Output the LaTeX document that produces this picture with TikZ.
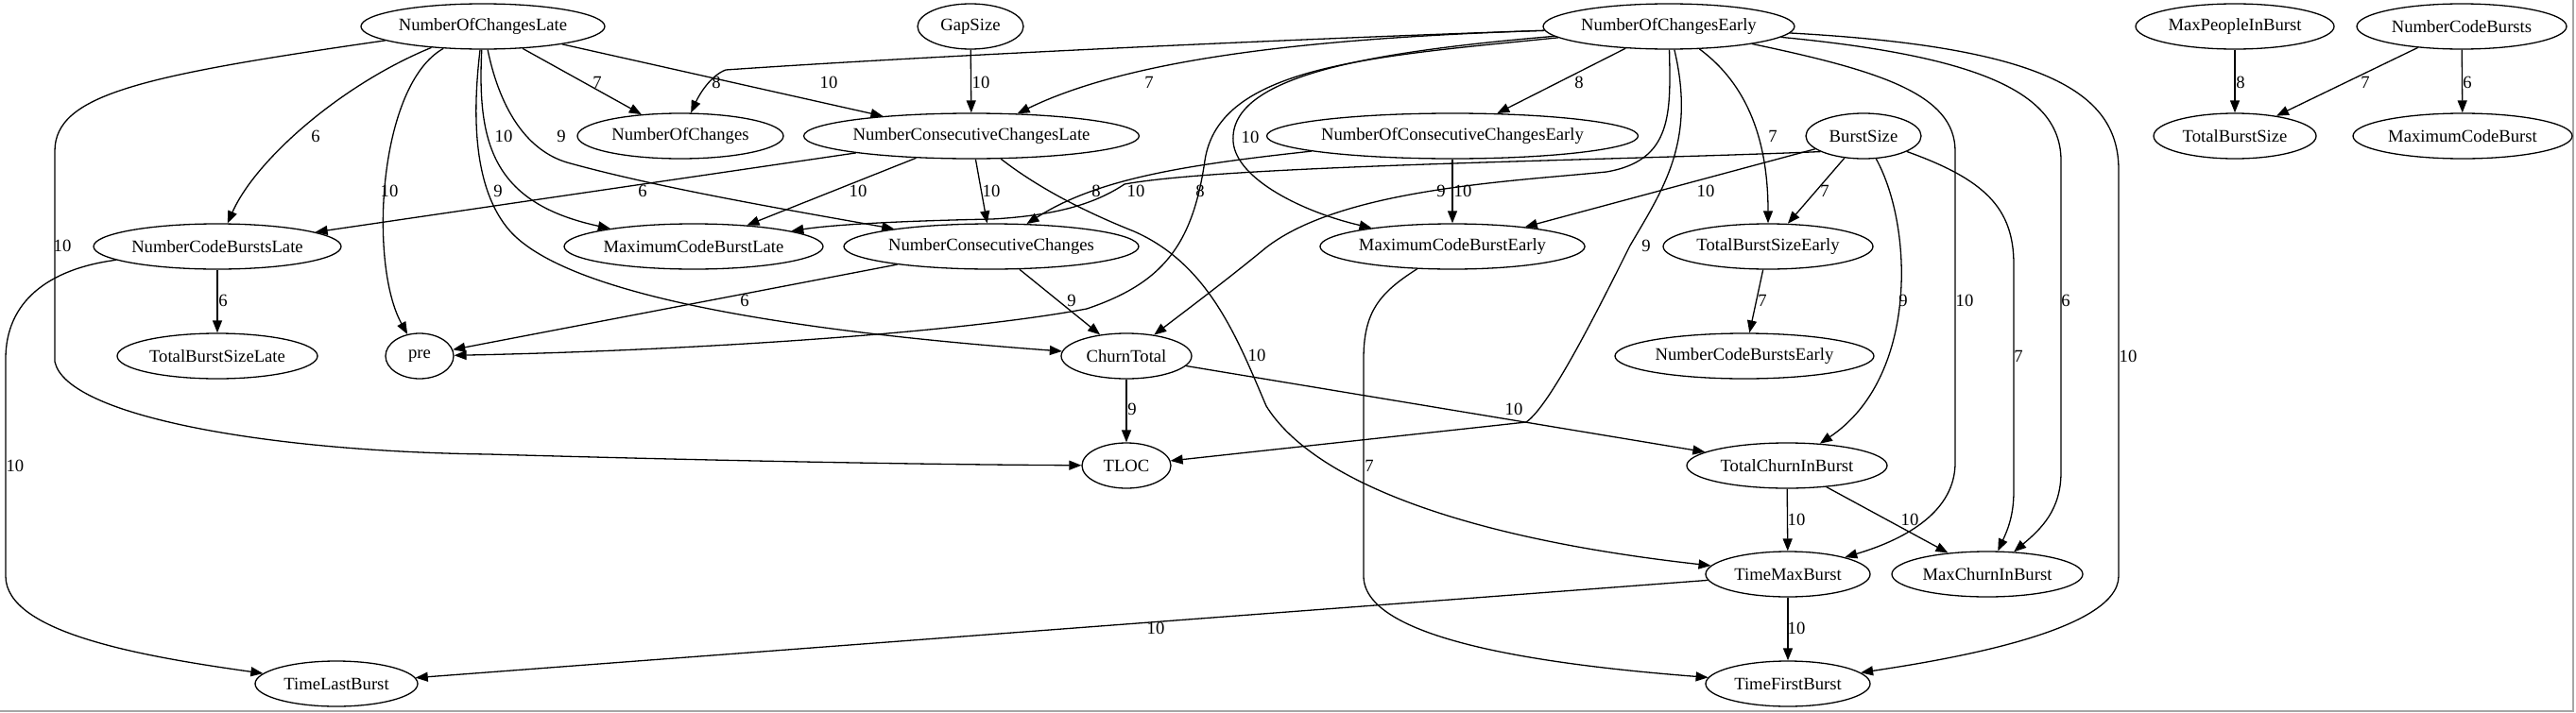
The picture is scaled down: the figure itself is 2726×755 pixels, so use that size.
\documentclass[tikz,border=0pt]{standalone}
\usepackage{fontspec}
\setmainfont{Liberation Serif}
\usetikzlibrary{shapes.geometric,arrows.meta}
\newcommand\gvfont{\fontsize{18.67}{22}\selectfont}
\begin{document}
\begin{tikzpicture}[x=1pt,y=-1pt,
  nd/.style={draw, ellipse, inner sep=0pt, minimum height=48pt, font=\gvfont, line width=1.3pt},
  edge/.style={draw, line width=1.3pt, -{Triangle[length=13pt,width=10pt]}},
  lbl/.style={font=\gvfont, inner sep=0pt}]
\useasboundingbox (0,0) rectangle (2726,755);
\draw[gray!70, line width=2pt] (0,753) -- (2723,753) -- (2723,0);
% nodes
\node[nd,minimum width=258pt] (NOCL) at (511,28) {NumberOfChangesLate};
\node[nd,minimum width=112pt] (GS) at (1027,28) {GapSize};
\node[nd,minimum width=266pt] (NOCE) at (1766,28) {NumberOfChangesEarly};
\node[nd,minimum width=210pt] (MPIB) at (2365,28) {MaxPeopleInBurst};
\node[nd,minimum width=222pt] (NCB) at (2605,28) {NumberCodeBursts};
\node[nd,minimum width=218pt] (NOC) at (720,144) {NumberOfChanges};
\node[nd,minimum width=352pt] (NCCL) at (1028,144) {NumberConsecutiveChangesLate};
\node[nd,minimum width=384pt] (NOCCE) at (1537,144) {NumberOfConsecutiveChangesEarly};
\node[nd,minimum width=122pt] (BS) at (1972,144) {BurstSize};
\node[nd,minimum width=172pt] (TBS) at (2365,144) {TotalBurstSize};
\node[nd,minimum width=232pt] (MCB) at (2606,144) {MaximumCodeBurst};
\node[nd,minimum width=262pt] (NCBL) at (230,261) {NumberCodeBurstsLate};
\node[nd,minimum width=274pt] (MCBL) at (734,261) {MaximumCodeBurstLate};
\node[nd,minimum width=312pt] (NCC) at (1049,261) {NumberConsecutiveChanges};
\node[nd,minimum width=280pt] (MCBE) at (1537,261) {MaximumCodeBurstEarly};
\node[nd,minimum width=222pt] (TBSE) at (1871,261) {TotalBurstSizeEarly};
\node[nd,minimum width=212pt] (TBSL) at (230,377) {TotalBurstSizeLate};
\node[nd,minimum width=72pt] (pre) at (444,377) {pre};
\node[nd,minimum width=138pt] (CT) at (1192,377) {ChurnTotal};
\node[nd,minimum width=274pt] (NCBE) at (1846,377) {NumberCodeBurstsEarly};
\node[nd,minimum width=94pt] (TLOC) at (1192,493) {TLOC};
\node[nd,minimum width=212pt] (TCIB) at (1891,493) {TotalChurnInBurst};
\node[nd,minimum width=174pt] (TMB) at (1892,608) {TimeMaxBurst};
\node[nd,minimum width=202pt] (MCIB) at (2103,608) {MaxChurnInBurst};
\node[nd,minimum width=172pt] (TLB) at (356,724) {TimeLastBurst};
\node[nd,minimum width=174pt] (TFB) at (1892,724) {TimeFirstBurst};
% edges from NumberOfChangesLate
\path[edge] (NOCL) -- (NOC) node[lbl] at (632,87) {7};
\path[edge] (NOCL) -- (NCCL) node[lbl] at (877,87) {10};
\path[edge] (NOCL) .. controls (360,90) and (270,170) .. (NCBL) node[lbl] at (334,144) {6};
\path[edge] (NOCL) .. controls (400,90) and (390,280) .. (pre) node[lbl] at (412,202) {10};
\path[edge] (NOCL) .. controls (505,150) and (520,215) .. (MCBL) node[lbl] at (533,144) {10};
\path[edge] (NOCL) .. controls (530,120) and (560,160) .. (600,172) .. controls (700,200) and (850,225) .. (NCC) node[lbl] at (594,144) {9};
\path[edge] (NOCL) .. controls (500,120) and (500,200) .. (540,245) .. controls (590,300) and (760,345) .. (CT) node[lbl] at (527,202) {9};
\path[edge] (NOCL) .. controls (150,80) and (58,100) .. (58,160) -- (58,383) .. controls (70,440) and (280,478) .. (517,481) .. controls (800,489) and (1000,492) .. (TLOC) node[lbl] at (66,260) {10};
% NumberCodeBurstsLate
\path[edge] (NCBL) -- (TBSL) node[lbl] at (236,318) {6};
\path[edge] (NCBL) .. controls (50,285) and (6,320) .. (6,380) -- (6,610) .. controls (6,670) and (150,695) .. (TLB) node[lbl] at (16,493) {10};
% GapSize
\path[edge] (GS) -- (NCCL) node[lbl] at (1038,87) {10};
% NumberOfChangesEarly
\path[edge] (NOCE) .. controls (1400,40) and (1000,58) .. (768,74) .. controls (752,80) and (740,100) .. (NOC) node[lbl] at (758,87) {8};
\path[edge] (NOCE) .. controls (1400,40) and (1200,60) .. (NCCL) node[lbl] at (1216,87) {7};
\path[edge] (NOCE) -- (NOCCE) node[lbl] at (1671,87) {8};
\path[edge] (NOCE) .. controls (1450,55) and (1300,80) .. (1305,150) .. controls (1308,190) and (1380,225) .. (MCBE) node[lbl] at (1323,145) {10};
\path[edge] (NOCE) .. controls (1450,60) and (1290,70) .. (1275,170) .. controls (1262,260) and (1230,300) .. (1150,327) .. controls (1000,355) and (700,372) .. (pre) node[lbl] at (1270,202) {8};
\path[edge] (NOCE) .. controls (1768,120) and (1770,170) .. (1700,182) .. controls (1600,192) and (1420,200) .. (1340,262) .. controls (1300,295) and (1260,325) .. (CT) node[lbl] at (1525,202) {9};
\path[edge] (NOCE) .. controls (1795,150) and (1760,200) .. (1725,260) .. controls (1690,330) and (1640,430) .. (1615,447) -- (TLOC) node[lbl] at (1742,260) {9};
\path[edge] (NOCE) .. controls (1850,90) and (1871,150) .. (TBSE) node[lbl] at (1876,144) {7};
\path[edge] (NOCE) .. controls (1990,75) and (2069,100) .. (2069,160) -- (2069,490) .. controls (2069,540) and (2020,570) .. (TMB) node[lbl] at (2079,318) {10};
\path[edge] (NOCE) .. controls (2100,60) and (2181,100) .. (2181,170) -- (2181,500) .. controls (2181,540) and (2160,560) .. (MCIB) node[lbl] at (2186,318) {6};
\path[edge] (NOCE) .. controls (2170,50) and (2242,100) .. (2242,180) -- (2242,610) .. controls (2242,670) and (2050,700) .. (TFB) node[lbl] at (2252,377) {10};
% NumberOfConsecutiveChangesEarly
\path[edge] (NOCCE) -- (MCBE) node[lbl] at (1548,202) {10};
\path[edge] (NOCCE) .. controls (1250,175) and (1160,190) .. (NCC) node[lbl] at (1160,202) {8};
% BurstSize
\path[edge] (BS.200) .. controls (1700,170) and (1300,175) .. (1190,195) .. controls (1160,215) and (1120,228) .. (1050,232) .. controls (950,234) and (880,238) .. (MCBL) node[lbl] at (1202,202) {10};
\path[edge] (BS) -- (MCBE) node[lbl] at (1805,202) {10};
\path[edge] (BS) -- (TBSE) node[lbl] at (1931,202) {7};
\path[edge] (BS) .. controls (2025,240) and (2030,400) .. (TCIB) node[lbl] at (2014,318) {9};
\path[edge] (BS) .. controls (2100,190) and (2131,220) .. (2131,280) -- (2131,520) .. controls (2131,545) and (2125,560) .. (MCIB) node[lbl] at (2136,377) {7};
% NumberConsecutiveChangesLate
\path[edge] (NCCL) -- (NCBL) node[lbl] at (680,202) {6};
\path[edge] (NCCL) -- (MCBL) node[lbl] at (908,202) {10};
\path[edge] (NCCL) -- (NCC) node[lbl] at (1049,202) {10};
\path[edge] (NCCL) .. controls (1100,200) and (1150,225) .. (1200,245) .. controls (1280,280) and (1310,360) .. (1340,430) .. controls (1390,510) and (1550,570) .. (TMB) node[lbl] at (1330,376) {10};
% NumberConsecutiveChanges
\path[edge] (NCC) -- (pre) node[lbl] at (788,318) {6};
\path[edge] (NCC) -- (CT) node[lbl] at (1134,318) {9};
% ChurnTotal
\path[edge] (CT) -- (TLOC) node[lbl] at (1198,433) {9};
\path[edge] (CT) -- (TCIB) node[lbl] at (1602,433) {10};
% TotalChurnInBurst
\path[edge] (TCIB) -- (TMB) node[lbl] at (1901,550) {10};
\path[edge] (TCIB) -- (MCIB) node[lbl] at (2021,550) {10};
% TimeMaxBurst
\path[edge] (TMB) -- (TLB) node[lbl] at (1223,665) {10};
\path[edge] (TMB) -- (TFB) node[lbl] at (1901,665) {10};
% MaximumCodeBurstEarly
\path[edge] (MCBE) .. controls (1460,310) and (1443,330) .. (1443,380) -- (1443,610) .. controls (1443,680) and (1650,705) .. (TFB) node[lbl] at (1449,493) {7};
% TotalBurstSizeEarly
\path[edge] (TBSE) -- (NCBE) node[lbl] at (1865,318) {7};
% right cluster
\path[edge] (MPIB) -- (TBS) node[lbl] at (2371,87) {8};
\path[edge] (NCB) -- (TBS) node[lbl] at (2503,87) {7};
\path[edge] (NCB) -- (MCB) node[lbl] at (2611,87) {6};
\end{tikzpicture}
\end{document}
